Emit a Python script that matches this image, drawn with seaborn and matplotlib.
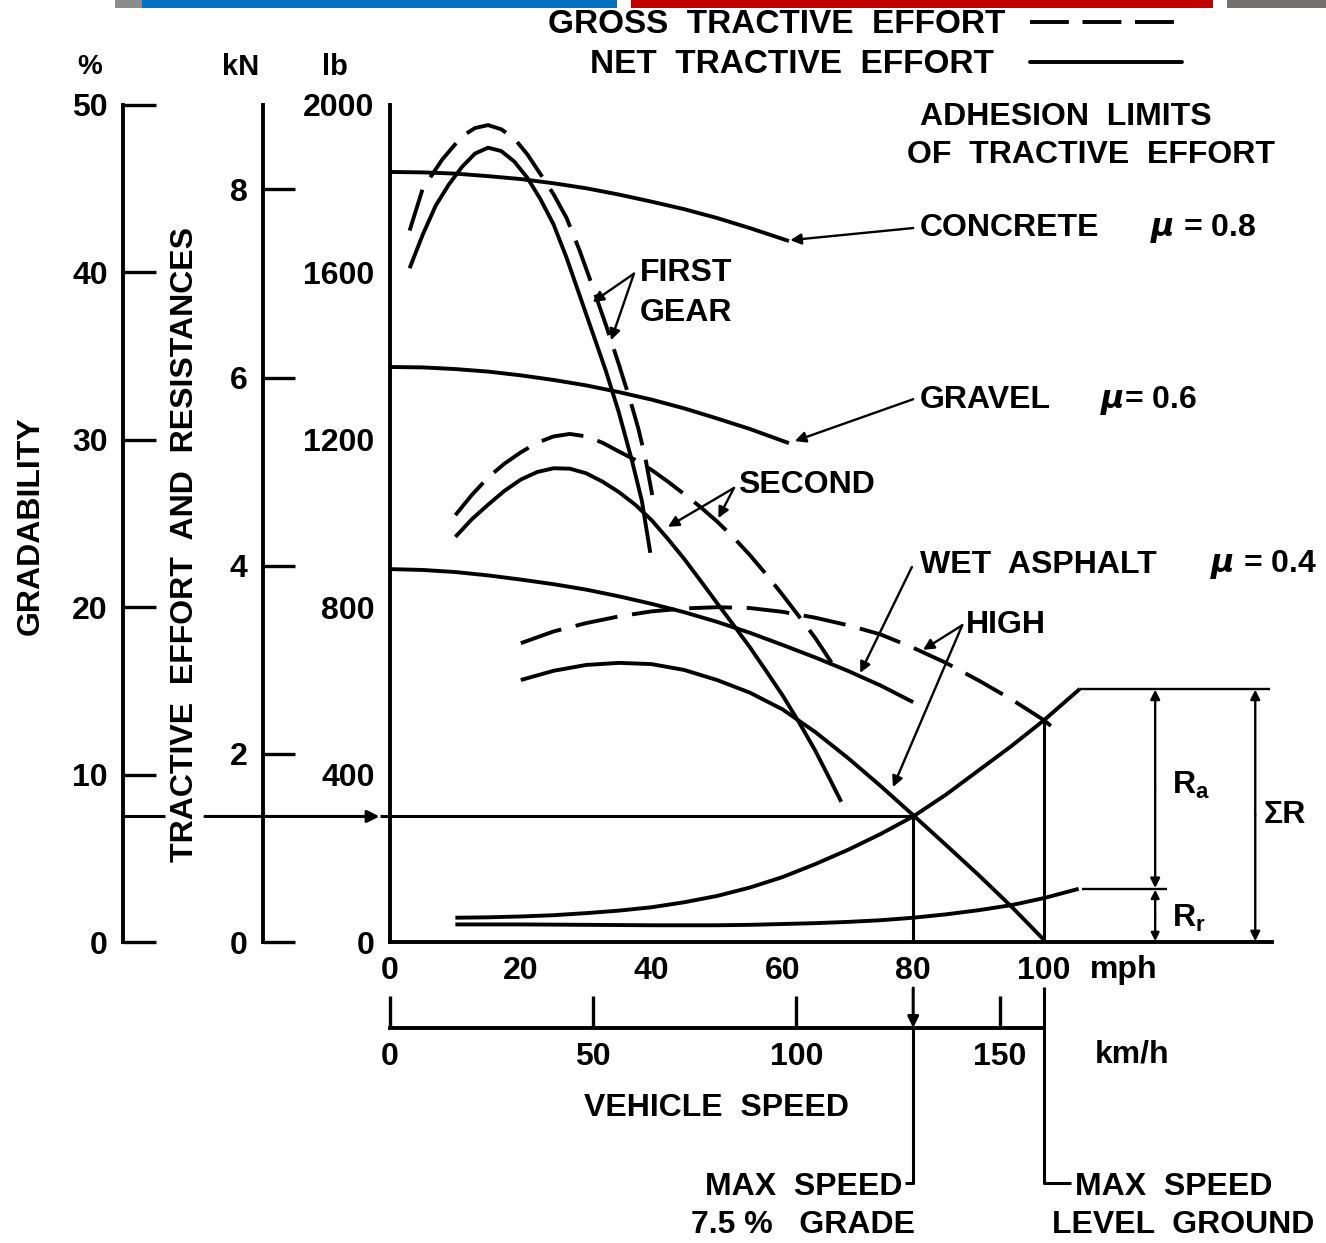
import matplotlib
matplotlib.use("Agg")
import matplotlib.pyplot as plt
import seaborn as sns
from matplotlib.patches import Rectangle

# ---------------- data (speed in mph, force in lb) ----------------
concrete_mph = [0, 5, 10, 15, 20, 25, 30, 35, 40, 45, 50, 55, 61]
concrete_lb = [1840, 1839, 1836, 1830, 1823, 1813, 1801, 1786, 1769, 1751, 1730, 1706, 1675]

gravel_mph = [0, 5, 10, 15, 20, 25, 30, 35, 40, 45, 50, 55, 61]
gravel_lb = [1374, 1373, 1369, 1363, 1354, 1343, 1330, 1314, 1296, 1275, 1251, 1226, 1192]

wet_mph = [0, 5, 10, 15, 20, 25, 30, 35, 40, 45, 50, 55, 60, 65, 70, 75, 80]
wet_lb = [891, 889, 884, 876, 866, 855, 842, 826, 808, 788, 765, 739, 710, 680, 648, 613, 573]

first_gross_mph = [3, 5, 8, 11, 13, 15, 17, 19, 21, 23, 25, 27, 29, 31, 33, 35, 37, 38, 39, 40.1]
first_gross_lb = [1700, 1800, 1870, 1925, 1945, 1952, 1942, 1920, 1882, 1835, 1787, 1730, 1652,
                  1565, 1475, 1380, 1280, 1225, 1160, 1068]

first_net_mph = [3, 5, 7, 9, 11, 13, 15, 17, 19, 21, 23, 25, 27, 29, 31, 33, 35, 37, 38.5, 39.8]
first_net_lb = [1610, 1690, 1760, 1810, 1852, 1884, 1898, 1890, 1865, 1826, 1775, 1715, 1635,
                1545, 1455, 1365, 1265, 1150, 1055, 930]

second_gross_mph = [10, 12.5, 15, 17.5, 20, 22.5, 25, 27.5, 30, 32.5, 35, 37.5, 40, 42.5, 45,
                    47.5, 50, 52.5, 55, 57.5, 60, 62.5, 65, 67.5]
second_gross_lb = [1020, 1068, 1110, 1143, 1170, 1193, 1208, 1214, 1208, 1193, 1172, 1152, 1128,
                   1100, 1070, 1039, 1005, 967, 925, 879, 830, 779, 727, 668]

second_net_mph = [10, 12.5, 15, 17.5, 20, 22.5, 25, 27.5, 30, 32.5, 35, 37.5, 40, 42.5, 45, 47.5,
                  50, 52.5, 55, 57.5, 60, 62.5, 65, 67, 69]
second_net_lb = [968, 1010, 1045, 1078, 1105, 1123, 1132, 1131, 1120, 1100, 1075, 1045, 1008, 963,
                 915, 863, 810, 758, 705, 648, 590, 526, 458, 397, 335]

high_gross_mph = [20, 25, 30, 35, 40, 45, 50, 55, 60, 65, 70, 75, 80, 85, 90, 95, 100, 102.5]
high_gross_lb = [714, 742, 762, 778, 790, 797, 800, 798, 789, 775, 757, 735, 703, 667, 625, 580,
                 530, 497]

high_net_mph = [20, 25, 30, 35, 40, 45, 50, 55, 60, 65, 70, 75, 80, 85, 90, 95, 100]
high_net_lb = [626, 648, 662, 667, 664, 650, 626, 596, 556, 502, 440, 373, 303, 232, 160, 85, 5]

total_res_mph = [10, 15, 20, 25, 30, 35, 40, 45, 50, 55, 60, 65, 70, 75, 80, 85, 90, 95, 100, 105.5]
total_res_lb = [58, 59, 61, 64, 69, 75, 83, 95, 110, 130, 155, 186, 220, 258, 300, 352, 410, 468,
                530, 605]

rolling_res_mph = [10, 20, 30, 40, 50, 55, 60, 65, 70, 75, 80, 85, 90, 95, 100, 105.3]
rolling_res_lb = [42, 42, 41, 40, 40, 41, 43, 45, 48, 52, 58, 66, 76, 88, 105, 127]

mph_ticks = [0, 20, 40, 60, 80, 100]
kmh_ticks = [0, 50, 100, 150]
lb_ticks = [0, 400, 800, 1200, 1600, 2000]
lb_minor = [200, 600, 1000, 1400, 1800]
kn_ticks = [0, 2, 4, 6, 8]
pct_ticks = [0, 10, 20, 30, 40, 50]

# ---------------- style ----------------
sns.set_style("white")
plt.rcParams['font.family'] = ['Liberation Sans', 'DejaVu Sans']
plt.rcParams['font.weight'] = 'bold'

W, H = 1326, 1243
fig = plt.figure(figsize=(W / 100, H / 100), dpi=100)
fig.patch.set_facecolor("white")

# top slide bars
for x0, x1, c in [(115, 142, "#8c8c8c"), (142, 617, "#0070C0"), (631, 1213, "#C00000"), (1227, 1326, "#767171")]:
    fig.add_artist(Rectangle((x0 / W, 1 - 8 / H), (x1 - x0) / W, 8 / H,
                             transform=fig.transFigure, color=c, lw=0))

X0, X1, Y0, Y1 = 390, 1272, 942, 105
PX_PER_MPH = 6.54
ax = fig.add_axes([X0 / W, 1 - Y0 / H, (X1 - X0) / W, (Y0 - Y1) / H])
ax.set_facecolor("none")
ax.set_xlim(0, (X1 - X0) / PX_PER_MPH)
ax.set_ylim(0, 2000)

LW = 2.8
K = "black"
FS = 23


def curve(x, y, dashed=False):
    sns.lineplot(x=x, y=y, ax=ax, color=K, lw=LW, errorbar=None)
    ln = ax.lines[-1]
    ln.set_clip_on(False)
    ln.set_solid_capstyle("butt")
    ln.set_solid_joinstyle("round")
    if dashed:
        ln.set_dashes([11, 3.8])
        ln.set_dash_capstyle("butt")
        ln.set_dash_joinstyle("round")


curve(concrete_mph, concrete_lb)
curve(gravel_mph, gravel_lb)
curve(wet_mph, wet_lb)
curve(first_gross_mph, first_gross_lb, dashed=True)
curve(first_net_mph, first_net_lb)
curve(second_gross_mph, second_gross_lb, dashed=True)
curve(second_net_mph, second_net_lb)
curve(high_gross_mph, high_gross_lb, dashed=True)
curve(high_net_mph, high_net_lb)
curve(total_res_mph, total_res_lb)
curve(rolling_res_mph, rolling_res_lb)
ax.set_xlabel("")
ax.set_ylabel("")

# main spines / ticks
for s in ["top", "right"]:
    ax.spines[s].set_visible(False)
for s in ["left", "bottom"]:
    ax.spines[s].set_linewidth(LW)
    ax.spines[s].set_color(K)
ax.spines["bottom"].set_bounds(0, (X1 - X0) / PX_PER_MPH)
ax.set_xticks(mph_ticks)
ax.set_xticklabels([str(v) for v in mph_ticks])
ax.set_yticks(lb_ticks)
ax.set_yticks(lb_minor, minor=True)
ax.set_yticklabels([str(v) for v in lb_ticks])
ax.tick_params(axis="x", direction="in", length=24, width=2.4, pad=10, labelsize=FS, colors=K)
ax.tick_params(axis="y", which="both", direction="in", length=23, width=2.4, pad=11, labelsize=FS, colors=K)

# secondary axes: gradability (%), kN, km/h
ax_pct = ax.secondary_yaxis(-(X0 - 123) / (X1 - X0), functions=(lambda v: v / 40.0, lambda v: v * 40.0))
ax_pct.set_yticks(pct_ticks)
ax_pct.tick_params(direction="in", length=24, width=2.4, pad=11, labelsize=FS, colors=K)

ax_kn = ax.secondary_yaxis(-(X0 - 263) / (X1 - X0), functions=(lambda v: v * 0.0044482, lambda v: v / 0.0044482))
ax_kn.set_yticks(kn_ticks)
ax_kn.tick_params(direction="in", length=23, width=2.4, pad=11, labelsize=FS, colors=K)

ax_km = ax.secondary_xaxis(-(1028 - Y0) / (Y0 - Y1), functions=(lambda v: v * 1.609344, lambda v: v / 1.609344))
ax_km.set_xticks(kmh_ticks)
ax_km.tick_params(direction="in", length=23, width=2.4, pad=10, labelsize=FS, colors=K)

for sec in (ax_pct, ax_kn, ax_km):
    for s in sec.spines.values():
        s.set_linewidth(LW)
        s.set_color(K)
ax_km.spines["bottom"].set_bounds(0, 100 * 1.609344)

# ---------------- annotation lines ----------------
LW2 = 2.2
LWA = 1.7


def seg(xs, ys, lw=LW2):
    ax.plot(xs, ys, color=K, lw=lw, clip_on=False, solid_capstyle="butt")


def arrow(xy_from, xy_to, style="-|>", lw=LWA, ms=16):
    ax.annotate("", xy=xy_to, xytext=xy_from, annotation_clip=False,
                arrowprops=dict(arrowstyle=style, color=K, lw=lw, mutation_scale=ms,
                                shrinkA=0, shrinkB=0))


# 7.5 % grade line
seg([-40.83, -34.4], [300, 300])
arrow((-28.3, 300), (-1.6, 300), lw=LW2, ms=18)
seg([-1.6, 80], [300, 300])
# verticals to speed scale
seg([80, 80], [300, 0])
arrow((80, -110), (80, -205), lw=LW2, ms=16)
seg([80, 80, 78.8], [-205, -576, -576])
seg([100, 100], [530, 0])
seg([100, 100, 104.2], [-108, -576, -576])

# resistance bracket on the right
seg([105.5, 134.6], [605, 605], lw=LWA)
seg([105.8, 118.8], [127, 127], lw=LWA)
arrow((117.0, 364), (117.0, 603), lw=LWA, ms=14)
arrow((117.0, 364), (117.0, 129), lw=LWA, ms=14)
arrow((117.0, 63), (117.0, 125), lw=LWA, ms=12)
arrow((117.0, 63), (117.0, 2), lw=LWA, ms=12)
arrow((132.3, 303), (132.3, 603), lw=LWA, ms=14)
arrow((132.3, 303), (132.3, 2), lw=LWA, ms=14)

# label pointers
arrow((80.0, 1706), (61.2, 1677))
arrow((80.0, 1297), (61.9, 1197))
arrow((79.8, 896), (71.9, 643))
arrow((37.3, 1597), (31.0, 1529))
arrow((37.3, 1597), (33.8, 1438))
arrow((52.6, 1085), (42.5, 992))
arrow((52.6, 1085), (50.2, 1013))
arrow((87.5, 757), (81.5, 698))
arrow((87.5, 757), (76.9, 370))

# legend samples
lg1 = ax.plot([97.9, 121.1], [2198, 2198], color=K, lw=LW, clip_on=False)[0]
lg1.set_dashes([10, 3.5])
ax.plot([97.9, 121.1], [2103, 2103], color=K, lw=LW, clip_on=False)

# ---------------- texts ----------------
def txt(x, y, s, ha="left", size=FS, **kw):
    ax.text(x, y, s, ha=ha, va="center", fontsize=size, color=K, clip_on=False, **kw)


txt(24.2, 2192, "GROSS  TRACTIVE  EFFORT", size=24)
txt(30.6, 2097, "NET  TRACTIVE  EFFORT", size=24)
txt(81.0, 1971, "ADHESION  LIMITS")
txt(79.1, 1881, "OF  TRACTIVE  EFFORT")
txt(81.0, 1706, "CONCRETE")
txt(116.2, 1706, r"$\mu$ = 0.8")
txt(81.0, 1295, "GRAVEL")
txt(108.6, 1295, r"$\mu$= 0.6")
txt(81.0, 901, "WET  ASPHALT")
txt(125.4, 901, r"$\mu$ = 0.4")
txt(38.2, 1599, "FIRST")
txt(38.2, 1503, "GEAR")
txt(53.2, 1092, "SECOND")
txt(88.1, 757, "HIGH")
txt(119.6, 375, r"R$_\mathregular{a}$")
txt(119.6, 57, r"R$_\mathregular{r}$")
txt(133.6, 303, "ΣR")
txt(107.0, -67, "mph")
txt(107.8, -270, "km/h")
txt(50.0, -397, "VEHICLE  SPEED", ha="center")
txt(78.4, -585, "MAX  SPEED", ha="right")
txt(80.3, -676, "7.5 %   GRADE", ha="right")
txt(104.7, -585, "MAX  SPEED")
txt(101.2, -676, "LEVEL  GROUND")
txt(-45.9, 2091, "%", ha="center", size=20)
txt(-22.9, 2091, "kN", ha="center", size=21)
txt(-8.4, 2091, "lb", ha="center", size=21)
txt(-55.0, 996, "GRADABILITY", ha="center", rotation=90)
txt(-31.3, 949, "TRACTIVE  EFFORT  AND  RESISTANCES", ha="center", rotation=90)

fig.savefig("out.png", dpi=100, facecolor="white")
